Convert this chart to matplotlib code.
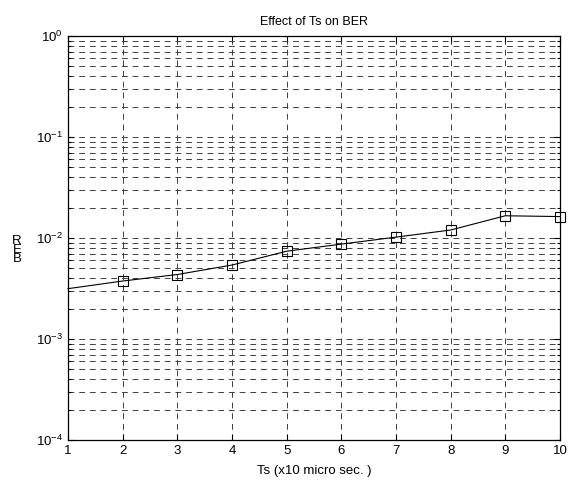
import matplotlib
matplotlib.use("Agg")
import matplotlib.pyplot as plt
from matplotlib.ticker import LogLocator, NullFormatter, FixedLocator

plt.rcParams['font.family'] = ['Liberation Sans', 'DejaVu Sans']
plt.rcParams['mathtext.fontset'] = 'custom'
plt.rcParams['mathtext.rm'] = 'Liberation Sans'
plt.rcParams['mathtext.it'] = 'Liberation Sans:italic'
plt.rcParams['mathtext.bf'] = 'Liberation Sans:bold'

ts = [1, 2, 3, 4, 5, 6, 7, 8, 9, 10]
ber = [3.15e-3, 3.75e-3, 4.35e-3, 5.4e-3, 7.4e-3, 8.7e-3, 1.02e-2, 1.2e-2, 1.66e-2, 1.63e-2]
title = "Effect of Ts on BER"
xlabel = "Ts (x10 micro sec. )"
ylabel_chars = ["R", "E", "B"]

fig = plt.figure(figsize=(5.74, 4.82), dpi=100)
ax = fig.add_axes([68/574, 42/482, 492/574, 404/482])
ax.plot(ts, ber, color='black', lw=0.8, marker='s', ms=7, mfc='none', mec='black',
        mew=0.8, markevery=list(range(1, len(ts))), clip_on=False)
ax.set_yscale('log')
ax.set_xlim(1, 10)
ax.set_ylim(1e-4, 1)
ax.xaxis.set_major_locator(FixedLocator(ts))
ax.yaxis.set_major_locator(LogLocator(base=10, numticks=10))
ax.yaxis.set_minor_locator(LogLocator(base=10, subs=range(2, 10), numticks=20))
ax.yaxis.set_minor_formatter(NullFormatter())
ax.grid(True, which='major', axis='both', color='0.25', lw=0.7, ls=(0, (6, 5)))
ax.grid(True, which='minor', axis='y', color='0.25', lw=0.7, ls=(0, (6, 5)))
ax.tick_params(which='both', direction='in', top=True, right=True, labelsize=9.5, width=0.8)
ax.tick_params(which='major', length=4)
ax.tick_params(which='minor', length=2)
for s in ax.spines.values():
    s.set_linewidth(0.9)
ax.set_title(title, fontsize=9, pad=8)
ax.set_xlabel(xlabel, fontsize=9.5, labelpad=6)
fig.text(17/574, 1 - 250/482, "\n".join(ylabel_chars), fontsize=9.5, ha='center', va='center',
         linespacing=0.7)
fig.savefig("out.png", dpi=100)
